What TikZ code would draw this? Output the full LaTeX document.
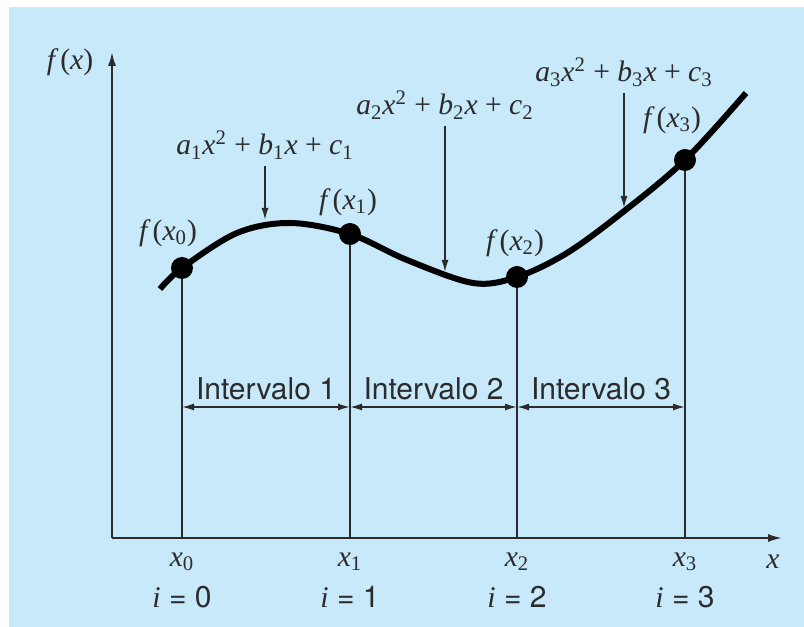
\documentclass[tikz,border=0pt]{standalone}
\usepackage{fontspec}
\setmainfont{Liberation Serif}
\newfontfamily\heros{TeX Gyre Heros}
\usetikzlibrary{arrows.meta,positioning}
\definecolor{PanelBlue}{HTML}{C7E9FA}
\definecolor{InkGray}{HTML}{2B2B2B}
\newcommand{\fxlbl}[1]{\textit{f}\kern1pt(\textit{x}\textsubscript{#1})}
\newcommand{\polylbl}[1]{\textit{a}\textsubscript{#1}\textit{x}\textsuperscript{2} + \textit{b}\textsubscript{#1}\textit{x} + \textit{c}\textsubscript{#1}}

\begin{document}
\begin{tikzpicture}[
	x=0.5pt, y=0.5pt,
	every node/.style={text=InkGray},
	mathlbl/.style={font=\fontsize{14.8}{16}\selectfont},
	sanslbl/.style={font=\heros\fontsize{15}{17}\selectfont},
	knot/.style={circle, fill=black, inner sep=0pt, minimum size=11pt},
	guide/.style={draw=InkGray, line width=0.9pt},
	arrow/.style={-{Latex[length=6pt,width=3.5pt]}, line width=0.8pt, draw=InkGray},
	dimline/.style={{Latex[length=6pt,width=3.5pt]}-{Latex[length=6pt,width=3.5pt]}, line width=0.8pt, draw=InkGray},
	axisline/.style={-{Latex[length=7pt,width=4pt]}, line width=0.9pt, draw=InkGray}
]
\useasboundingbox (0,0) rectangle (804,627);
\fill[PanelBlue] (9,0) rectangle (804,620);

% axes
\coordinate (origin) at (112,89);
\coordinate (ytop) at (112,575);
\coordinate (xend) at (782,89);
\draw[axisline] (origin) -- (ytop);
\draw[axisline] (origin) -- (xend);
\node[mathlbl] (ylab) at (70,565) {\textit{f}\kern1pt(\textit{x})};
\node[mathlbl] (xlab) at (773,65) {\textit{x}};

% spline
\draw[line width=3pt, black] plot[smooth, tension=0.55] coordinates {
	(160,338) (182,359) (237,394) (290,404) (350,393) (407,367)
	(473,344) (517,350) (567,374) (623,415) (685,467) (746,534)};

\node[knot] (p0) at (182,359) {};
\node[knot] (p1) at (350,393) {};
\node[knot] (p2) at (517,350) {};
\node[knot] (p3) at (685,467) {};

\node[mathlbl] (fp0) at (168,394) {\fxlbl{0}};
\node[mathlbl] (fp1) at (348,425) {\fxlbl{1}};
\node[mathlbl] (fp2) at (515,384) {\fxlbl{2}};
\node[mathlbl] (fp3) at (672,507) {\fxlbl{3}};

% knots down to the axis
\coordinate (b0) at (182,89);
\coordinate (b1) at (350,89);
\coordinate (b2) at (517,89);
\coordinate (b3) at (685,89);
\draw[guide] (p0) -- (b0);
\draw[guide] (p1) -- (b1);
\draw[guide] (p2) -- (b2);
\draw[guide] (p3) -- (b3);

\node[mathlbl] (xl0) at (182,65) {\textit{x}\textsubscript{0}};
\node[mathlbl] (xl1) at (350,65) {\textit{x}\textsubscript{1}};
\node[mathlbl] (xl2) at (517,65) {\textit{x}\textsubscript{2}};
\node[mathlbl] (xl3) at (685,65) {\textit{x}\textsubscript{3}};
\node[sanslbl] (il0) at (182,30) {{\rmfamily\itshape i} = 0};
\node[sanslbl] (il1) at (350,30) {{\rmfamily\itshape i} = 1};
\node[sanslbl] (il2) at (517,30) {{\rmfamily\itshape i} = 2};
\node[sanslbl] (il3) at (685,30) {{\rmfamily\itshape i} = 3};

% intervals
\coordinate (m0) at (182,220);
\coordinate (m1) at (350,220);
\coordinate (m2) at (517,220);
\coordinate (m3) at (685,220);
\draw[dimline] (m0) -- node[sanslbl, above] {Intervalo 1} (m1);
\draw[dimline] (m1) -- node[sanslbl, above] {Intervalo 2} (m2);
\draw[dimline] (m2) -- node[sanslbl, above] {Intervalo 3} (m3);

% polynomials
\node[mathlbl] (eq1) at (265,482) {\polylbl{1}};
\node[mathlbl] (eq2) at (445,522) {\polylbl{2}};
\node[mathlbl] (eq3) at (624,555) {\polylbl{3}};
\coordinate (t1) at (265,407);
\coordinate (t2) at (445,355);
\coordinate (t3) at (624,419);
\draw[arrow] (eq1.south) -- (t1);
\draw[arrow] (eq2.south) -- (t2);
\draw[arrow] (eq3.south) -- (t3);
\end{tikzpicture}
\end{document}
